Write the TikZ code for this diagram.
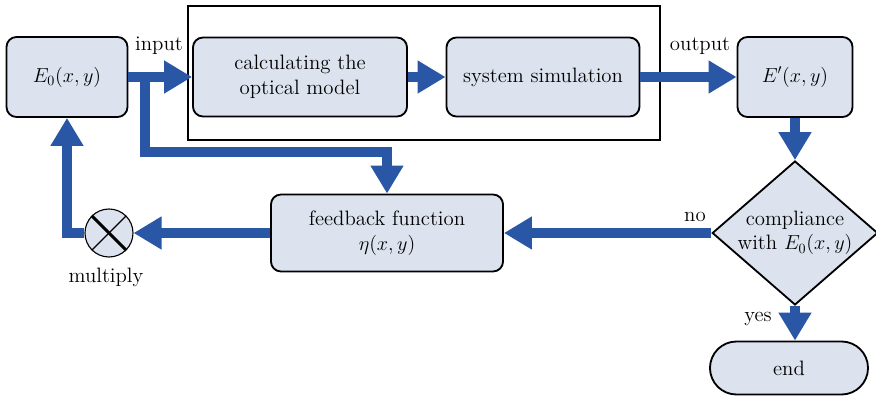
\documentclass[tikz,border=0pt]{standalone}
\usepackage{amsmath}
\usepackage{tikz}
\usepackage{color}
\usetikzlibrary{arrows.meta,shapes.geometric,shapes.misc}

\definecolor{flowblue}{RGB}{42,86,166}
\definecolor{boxfill}{RGB}{220,227,238}

\tikzset{
  block/.style={draw=black, line width=1.3pt, fill=boxfill, rounded corners=0.25cm,
    inner sep=0pt, align=center, font=\fontsize{14.8}{17.5}\selectfont},
  flow/.style={draw=flowblue, line width=0.27cm,
    -{Triangle[width=0.78cm,length=0.7cm]}},
  tag/.style={font=\fontsize{14.8}{17}\selectfont},
}

\begin{document}
\begin{tikzpicture}[x=0.025cm,y=-0.025cm]
\useasboundingbox (0,0) rectangle (876,400);

% frame round the two inner steps
\node[draw=black, line width=1.1pt, minimum width=11.8cm, minimum height=3.35cm] (simframe) at (424,73) {};

\node[block, minimum width=3.025cm, minimum height=2cm] (e0) at (67,77) {$E_0(x,y)$};
\node[block, minimum width=5.35cm, minimum height=1.975cm] (calc) at (300,77) {calculating the\\optical model};
\node[block, minimum width=4.825cm, minimum height=1.975cm] (sys) at (543,77) {system simulation};
\node[block, minimum width=2.875cm, minimum height=2cm] (eprime) at (795,77) {$E'(x,y)$};
\node[block, diamond, rounded corners=0pt, aspect=1.15, minimum width=4.1cm, minimum height=3.55cm] (check) at (795,233) {compliance\\with $E_0(x,y)$};
\node[block, rounded rectangle, rounded corners=0pt, minimum width=3.95cm, minimum height=1.325cm] (stop) at (789,368) {end};
\node[block, minimum width=5.8cm, minimum height=1.925cm] (fb) at (387,233) {feedback function\\$\eta(x,y)$};
\node[circle, draw=black, line width=0.8pt, fill=boxfill, minimum size=1.2cm, inner sep=0pt] (mul) at (109,233) {};
\draw[line width=2.2pt] (mul.north west) -- (mul.south east);
\draw[line width=0.8pt] (mul.north east) -- (mul.south west);

% labels
\node[tag] (tin) at (159,46) {input};
\node[tag] (tout) at (700,46) {output};
\node[tag] (tmul) at (106,277) {multiply};
\node[tag] (tno) at (695,217) {no};
\node[tag] (tyes) at (758,319) {yes};

% main flow
\coordinate (split) at (145,77);
\coordinate (bend) at (387,152);
\draw[flow] (e0.east) -- (calc.west);
\draw[flow] (calc.east) -- (sys.west);
\draw[flow] (sys.east) -- (eprime.west);
\draw[flow] (eprime.south) -- (check.north);
\draw[flow] (check.south) -- (stop.north -| check.south);
\draw[flow] (check.west) -- (fb.east);
\draw[flow] (fb.west) -- (mul.east);
\draw[flow] (mul.west) -| (e0.south);
\draw[flow] (split) |- (bend) -- (fb.north);
\end{tikzpicture}
\end{document}
